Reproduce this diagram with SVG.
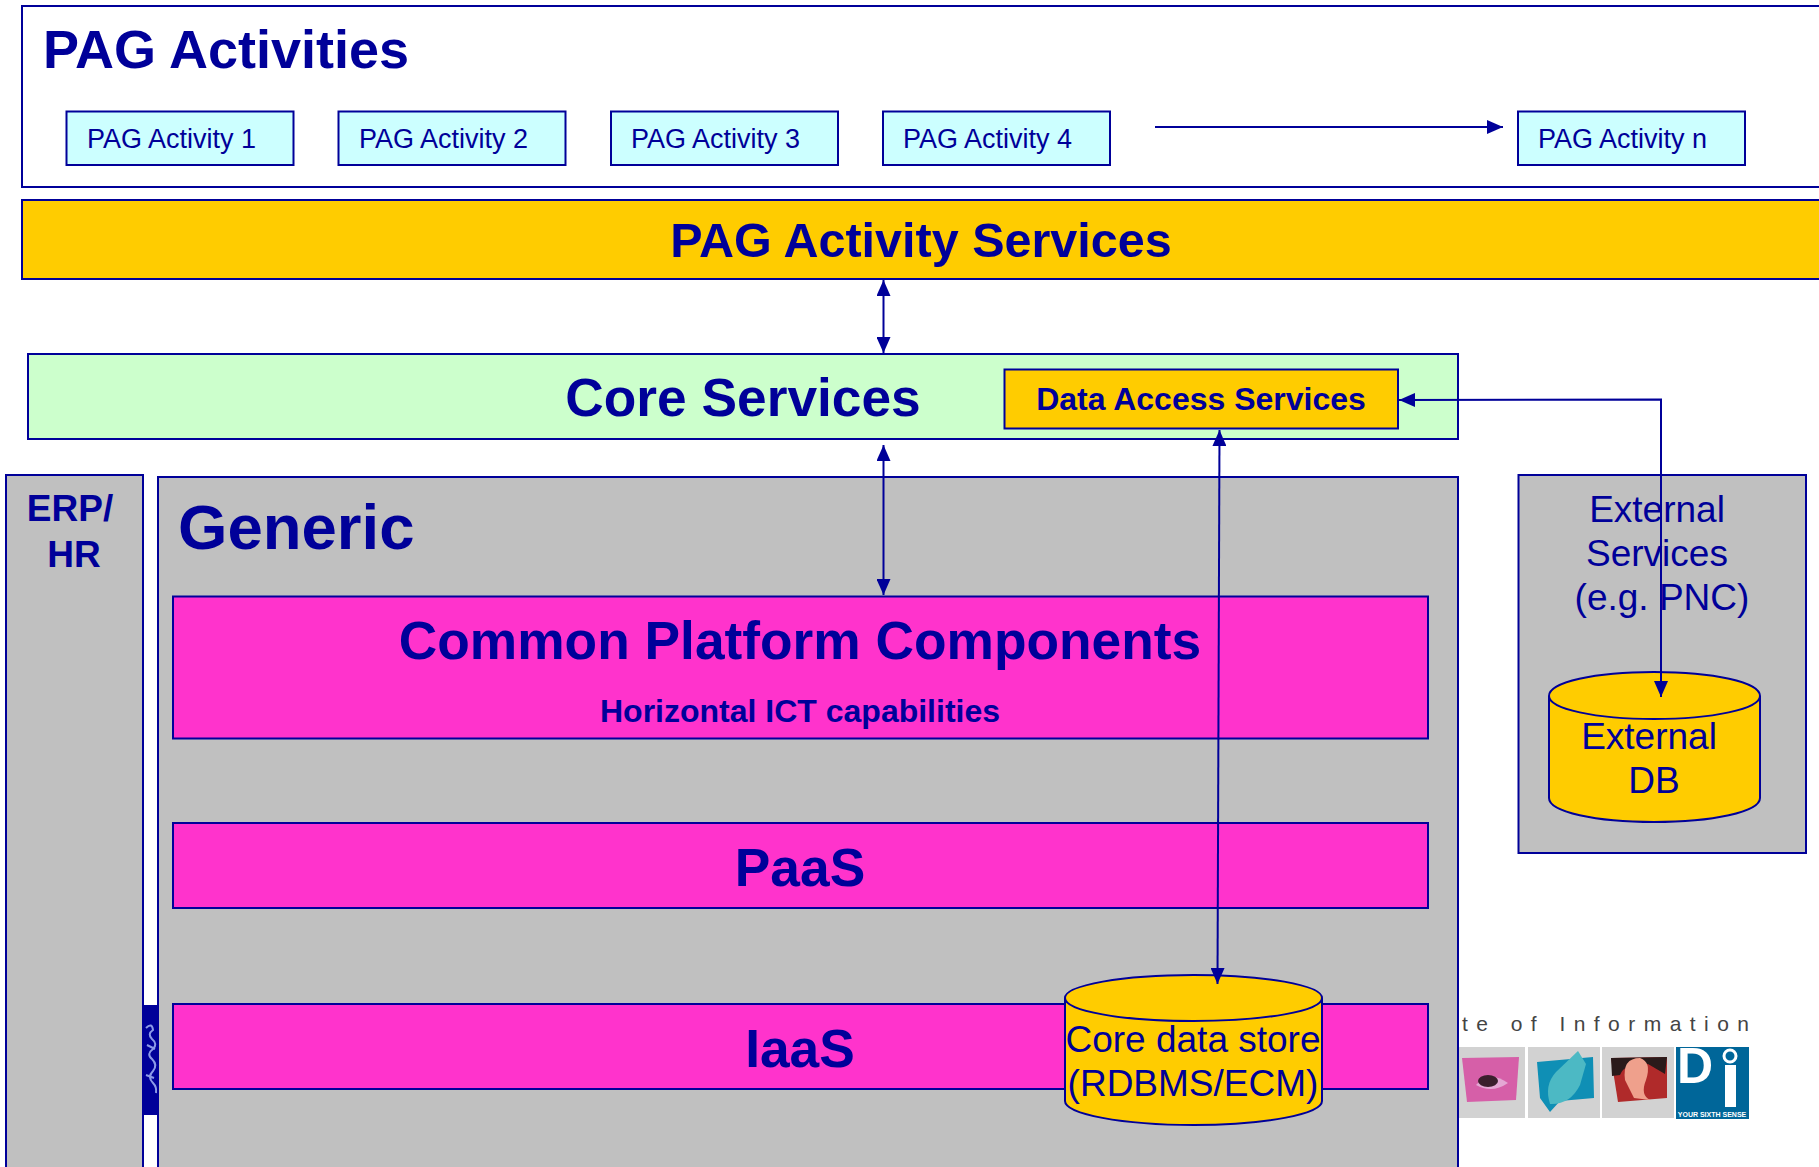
<svg xmlns="http://www.w3.org/2000/svg" width="1819" height="1167" viewBox="0 0 1819 1167">
<defs>
<style>
text{font-family:"Liberation Sans",Arial,sans-serif;fill:#000099}
.b{font-weight:bold}
.m{text-anchor:middle}
.box{stroke:#000099;stroke-width:2}
.act{fill:#CCFFFF}
.grey{fill:#C0C0C0}
.pink{fill:#FF33CC}
.gold{fill:#FFCC00}
.conn{fill:none;stroke:#000099;stroke-width:2}
.t27{font-size:27px}.t37{font-size:37px}.t53{font-size:53.3px}
</style>
<marker id="ah" viewBox="0 0 16 14" markerWidth="16" markerHeight="14" refX="16" refY="7" orient="auto-start-reverse" markerUnits="userSpaceOnUse"><path d="M0 0L16 7L0 14Z" fill="#000099"/></marker>
</defs>
<rect width="1819" height="1167" fill="#fff"/>
<g id="logo">
<rect x="142" y="1005" width="16" height="110" fill="#000099"/>
<path d="M146 1028q6-6 7 2q-6 4-1 9q6 5 1 10q-7 5-1 10q6 6 1 12q-6 6 0 12q4 4 3 10M147 1045l8 4M146 1075l8 3" fill="none" stroke="#8C9AE8" stroke-width="2"/>
<text x="1462" y="1031" font-size="21" textLength="287" lengthAdjust="spacing" style="fill:#444">te of Information</text>
<rect x="1458" y="1047" width="67" height="71" fill="#D2D2D2"/>
<path d="M1462 1058L1519 1057L1516 1100L1467 1102Z" fill="#D65FA8"/>
<path d="M1476 1085Q1490 1070 1508 1083Q1492 1094 1476 1085Z" fill="#E4A8D4"/>
<ellipse cx="1488" cy="1081" rx="10" ry="6" fill="#3A1F2C"/>
<rect x="1528" y="1047" width="72" height="71" fill="#D2D2D2"/>
<path d="M1537 1062L1593 1057L1594 1098L1560 1101L1550 1112L1540 1098Z" fill="#0F8FB5"/>
<path d="M1550 1104Q1544 1085 1556 1072L1578 1051L1586 1064L1580 1085Q1570 1105 1550 1104Z" fill="#4CB9C4"/>
<rect x="1602" y="1047" width="72" height="71" fill="#D2D2D2"/>
<path d="M1611 1058L1667 1057L1667 1098L1618 1102Z" fill="#B02A2A"/>
<path d="M1611 1058L1667 1057L1665 1074L1648 1064Q1625 1062 1620 1075L1612 1076Z" fill="#2A1A1A"/>
<path d="M1625 1080Q1622 1058 1640 1058Q1652 1062 1646 1080Q1640 1095 1650 1100L1634 1098Z" fill="#EFA08C"/>
<rect x="1676" y="1047" width="73" height="72" fill="#006699"/>
<text x="1677" y="1083" font-size="50" class="b" style="fill:#fff">D</text>
<rect x="1725" y="1065" width="11" height="42" fill="#fff"/>
<circle cx="1730" cy="1056" r="6" fill="#006699" stroke="#fff" stroke-width="3"/>
<text x="1712" y="1117" font-size="7" class="b m" style="fill:#fff">YOUR SIXTH SENSE</text>
</g>
<g id="pag-activities">
<rect class="box" x="22" y="6" width="1810" height="181" fill="#fff"/>
<text class="b" x="43" y="68" font-size="54">PAG Activities</text>
</g>
<g id="activity-1"><rect class="box act" x="66.500" y="111.500" width="227" height="53.500"/><text class="t27" x="87" y="148">PAG Activity 1</text></g>
<g id="activity-2"><rect class="box act" x="338.500" y="111.500" width="227" height="53.500"/><text class="t27" x="359" y="148">PAG Activity 2</text></g>
<g id="activity-3"><rect class="box act" x="611" y="111.500" width="227" height="53.500"/><text class="t27" x="631" y="148">PAG Activity 3</text></g>
<g id="activity-4"><rect class="box act" x="883" y="111.500" width="227" height="53.500"/><text class="t27" x="903" y="148">PAG Activity 4</text></g>
<g id="activity-n"><rect class="box act" x="1518" y="111.500" width="227" height="53.500"/><text class="t27" x="1538" y="148">PAG Activity n</text></g>
<g id="activity-services">
<rect class="box gold" x="22" y="200" width="1810" height="79"/>
<text class="b m" x="921" y="257" font-size="48.500">PAG Activity Services</text>
</g>
<g id="core-services">
<rect class="box" x="28" y="354" width="1430" height="85" fill="#CCFFCC"/>
<text class="b m t53" x="743" y="416">Core Services</text>
</g>
<g id="data-access">
<rect class="box gold" x="1004.500" y="369.500" width="393.500" height="59"/>
<text class="b m" x="1201" y="410" font-size="32">Data Access Services</text>
</g>
<g id="erp-hr">
<rect class="box grey" x="6" y="475" width="137" height="720"/>
<text class="b m t37" x="70" y="521">ERP/</text>
<text class="b m t37" x="74" y="567">HR</text>
</g>
<g id="generic">
<rect class="box grey" x="158" y="477" width="1300" height="720"/>
<text class="b" x="178" y="549" font-size="63.500">Generic</text>
</g>
<g id="common-platform">
<rect class="box pink" x="173" y="596.500" width="1255" height="142"/>
<text class="b m t53" x="800" y="659">Common Platform Components</text>
<text class="b m" x="800" y="722" font-size="32">Horizontal ICT capabilities</text>
</g>
<g id="paas">
<rect class="box pink" x="173" y="823" width="1255" height="85"/>
<text class="b m t53" x="800" y="886">PaaS</text>
</g>
<g id="iaas">
<rect class="box pink" x="173" y="1004" width="1255" height="85"/>
<text class="b m t53" x="800" y="1067">IaaS</text>
</g>
<g id="core-data-store">
<path class="box gold" d="M1065 998V1101C1065 1114 1122 1125 1193.500 1125S1322 1114 1322 1101V998C1322 985 1264 975 1193.500 975S1065 985 1065 998C1065 1011 1122 1021 1193.500 1021S1322 1011 1322 998"/>
<text class="m t37" x="1193" y="1052">Core data store</text>
<text class="m t37" x="1193" y="1096">(RDBMS/ECM)</text>
</g>
<g id="external-services">
<rect class="box grey" x="1518.500" y="475" width="287.500" height="378"/>
<text class="m t37" x="1657" y="522">External</text>
<text class="m t37" x="1657" y="566">Services</text>
<text class="m t37" x="1662" y="610">(e.g. PNC)</text>
</g>
<g id="external-db">
<path class="box gold" d="M1549 696V798C1549 812 1596 822 1654 822S1760 812 1760 798V696C1760 682 1713 672 1654 672S1549 682 1549 696C1549 709 1596 719 1654 719S1760 709 1760 696"/>
<text class="m t37" x="1649" y="749">External</text>
<text class="m t37" x="1654" y="793">DB</text>
</g>
<g id="connectors">
<path class="conn" d="M1155 127H1503" marker-end="url(#ah)"/>
<path class="conn" d="M883.500 280V353" marker-start="url(#ah)" marker-end="url(#ah)"/>
<path class="conn" d="M883.500 445V595" marker-start="url(#ah)" marker-end="url(#ah)"/>
<path class="conn" d="M1219.500 430L1217.500 984" marker-start="url(#ah)" marker-end="url(#ah)"/>
<path class="conn" d="M1399 400L1661 399.500V697" marker-start="url(#ah)" marker-end="url(#ah)"/>
</g>
</svg>
